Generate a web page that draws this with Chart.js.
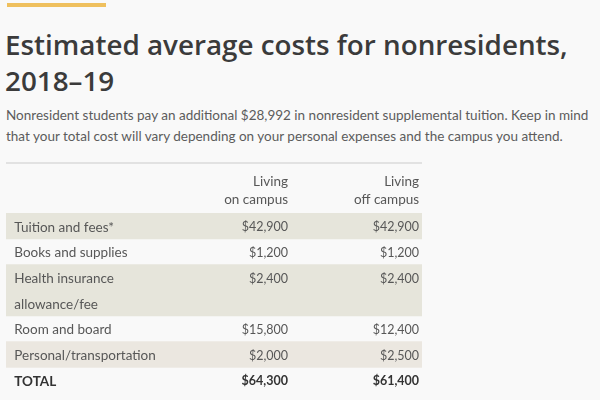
<!DOCTYPE html>
<html>
<head>
<meta charset="utf-8">
<script src="https://cdn.jsdelivr.net/npm/chart.js@4"></script>
<style>
  html, body { margin: 0; padding: 0; }
  body { width: 600px; height: 400px; background: #f9f9f9; position: relative; overflow: hidden; font-family: Lato, 'Noto Sans', sans-serif; }
  #accent { position: absolute; left: 7px; top: 3px; width: 99px; height: 4px; background: #efc05e; }
  #title { position: absolute; left: 5px; top: 26px; font-family: 'Open Sans', Lato, sans-serif; font-size: 27.8px; line-height: 36px; font-weight: 600; color: #3b3b3b; white-space: nowrap; }
  #subtitle { position: absolute; left: 6px; top: 105px; font-size: 13.5px; line-height: 21px; color: #5c5c5c; white-space: nowrap; }
  #tableWrap { position: absolute; left: 6px; top: 162px; width: 416px; height: 231px; }
</style>
</head>
<body>
<div id="accent"></div>
<div id="title">Estimated average costs for nonresidents,<br>2018–19</div>
<div id="subtitle">Nonresident students pay an additional $28,992 in nonresident supplemental tuition. Keep in mind<br>that your total cost will vary depending on your personal expenses and the campus you attend.</div>
<div id="tableWrap"><canvas id="costTable"></canvas></div>
<script>
// one entry per table line (the two header lines are empty labels)
const rowLabels = ['', '', 'Tuition and fees*', 'Books and supplies', 'Health insurance', 'allowance/fee', 'Room and board', 'Personal/transportation', 'TOTAL'];
const onCampus = [null, null, 42900, 1200, 2400, null, 15800, 2000, 64300];
const offCampus = [null, null, 42900, 1200, 2400, null, 12400, 2500, 61400];
const columnHeads = [['Living', 'on campus'], ['Living', 'off campus']];
const shadedRows = [0, 0, 1, 0, 1, 1, 0, 1, 0];

const columns = [onCampus, offCampus];
const columnRight = [0.678, 0.993];
const labelLeft = 0.02;
const textColor = '#575757';
const totalColor = '#333';
const totalIndex = rowLabels.length - 1;

const shadeColors = rowLabels.map((l, i) => i === 7 ? '#ebe7e0' : '#e6e5db');

const cellText = {
  id: 'cellText',
  afterDatasetsDraw(chart) {
    const ctx = chart.ctx;
    const x = chart.scales.x;
    const y = chart.scales.y;
    const area = chart.chartArea;
    ctx.save();

    // rule above the table
    ctx.strokeStyle = '#e2e2e2';
    ctx.lineWidth = 2;
    ctx.beginPath();
    ctx.moveTo(area.left, area.top + 1);
    ctx.lineTo(area.right, area.top + 1);
    ctx.stroke();

    ctx.fillStyle = textColor;
    ctx.textAlign = 'right';

    // column headings sit at the bottom of the two header lines
    const headBottom = (y.getPixelForValue(1) + y.getPixelForValue(2)) / 2;
    ctx.font = '13.5px Lato';
    ctx.textBaseline = 'alphabetic';
    columnHeads.forEach((lines, c) => {
      const px = x.getPixelForValue(columnRight[c]);
      ctx.fillText(lines[0], px, headBottom - 27);
      ctx.fillText(lines[1], px, headBottom - 9);
    });

    ctx.textBaseline = 'middle';
    rowLabels.forEach((label, i) => {
      const py = y.getPixelForValue(i) + 1;
      const isTotal = i === totalIndex;
      const weight = isTotal ? 'bold ' : '';
      ctx.fillStyle = isTotal ? totalColor : textColor;
      ctx.textAlign = 'left';
      ctx.font = weight + '13.5px Lato';
      if (label) ctx.fillText(label, x.getPixelForValue(labelLeft), py);
      ctx.textAlign = 'right';
      ctx.font = weight + '12.5px Lato';
      columns.forEach((series, c) => {
        const v = series[i];
        if (v === null) return;
        ctx.fillText('$' + v.toLocaleString('en-US'), x.getPixelForValue(columnRight[c]), py);
      });
    });
    ctx.restore();
  }
};

new Chart(document.getElementById('costTable'), {
  type: 'bar',
  data: {
    labels: rowLabels,
    datasets: [{
      data: shadedRows.map(s => s ? [0, 1] : null),
      backgroundColor: shadeColors,
      barPercentage: 1,
      categoryPercentage: 1,
      borderWidth: 0
    }]
  },
  options: {
    indexAxis: 'y',
    responsive: true,
    maintainAspectRatio: false,
    animation: false,
    layout: { padding: 0 },
    plugins: { legend: { display: false }, tooltip: { enabled: false } },
    scales: {
      x: { display: false, min: 0, max: 1 },
      y: { display: false }
    }
  },
  plugins: [cellText]
});
</script>
</body>
</html>
